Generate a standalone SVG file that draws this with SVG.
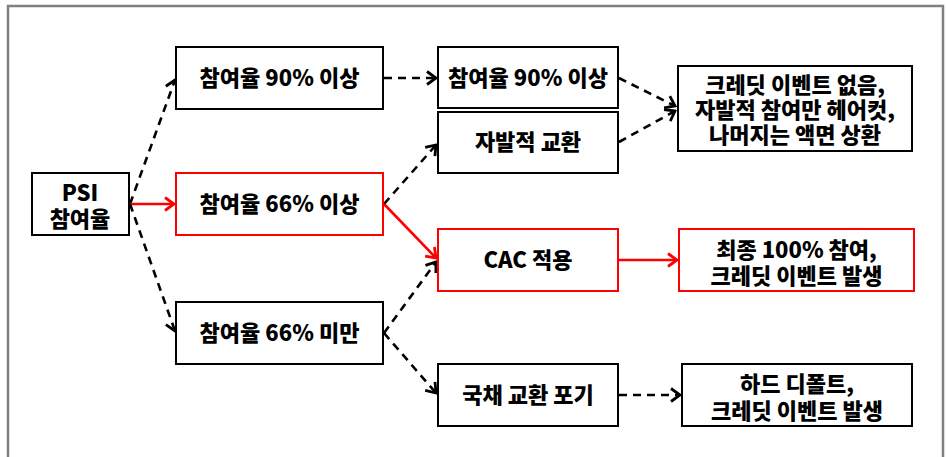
<svg xmlns="http://www.w3.org/2000/svg" width="946" height="457" viewBox="0 0 946 457">
<style>
.box{fill:#fff;stroke:#000;stroke-width:2}
.rbox{fill:#fff;stroke:#ff0000;stroke-width:2}
text{font-family:"Noto Sans CJK KR","Noto Sans",sans-serif;font-weight:900;font-size:22px;fill:#000;text-anchor:middle}
.d{fill:none;stroke:#000;stroke-width:2.6;stroke-dasharray:8 6}
.r{fill:none;stroke:#ff0000;stroke-width:2.6}
</style>
<defs>
<marker id="ab" viewBox="-11 -8 13 16" markerWidth="13" markerHeight="16" refX="0" refY="0" orient="auto" markerUnits="userSpaceOnUse">
<path d="M-9,-6.5 L0,0 L-9,6.5" fill="none" stroke="#000" stroke-width="2.8"/>
</marker>
<marker id="ar" viewBox="-11 -8 13 16" markerWidth="13" markerHeight="16" refX="0" refY="0" orient="auto" markerUnits="userSpaceOnUse">
<path d="M-9,-6.5 L0,0 L-9,6.5" fill="none" stroke="#ff0000" stroke-width="2.8"/>
</marker>
</defs>
<rect x="8" y="6" width="935" height="470" fill="none" stroke="#808080" stroke-width="2.5"/>
<g id="connectors">
<line class="d" x1="130" y1="204" x2="175" y2="80" marker-end="url(#ab)"/>
<line class="r" x1="130" y1="204" x2="174" y2="204" marker-end="url(#ar)"/>
<line class="d" x1="130" y1="204" x2="175" y2="331" marker-end="url(#ab)"/>
<line class="d" x1="384" y1="78" x2="436" y2="78" marker-end="url(#ab)"/>
<line class="d" x1="384" y1="204" x2="436" y2="145" marker-end="url(#ab)"/>
<line class="r" x1="384" y1="204" x2="436" y2="258" marker-end="url(#ar)"/>
<line class="d" x1="384" y1="333" x2="436" y2="262" marker-end="url(#ab)"/>
<line class="d" x1="384" y1="333" x2="436" y2="393" marker-end="url(#ab)"/>
<line class="d" x1="619" y1="78" x2="675" y2="106" marker-end="url(#ab)"/>
<line class="d" x1="619" y1="142" x2="675" y2="111" marker-end="url(#ab)"/>
<line class="r" x1="619" y1="260" x2="677" y2="260" marker-end="url(#ar)"/>
<line class="d" x1="619" y1="395" x2="680" y2="395" marker-end="url(#ab)"/>
</g>
<g id="psi"><rect class="box" x="32" y="173" width="97" height="62"/><text x="80" y="201">PSI</text><text x="80" y="227">참여율</text></g>
<g id="p90"><rect class="box" x="176" y="47" width="207" height="62"/><text x="279.5" y="86">참여율 90% 이상</text></g>
<g id="p66"><rect class="rbox" x="176" y="173" width="207" height="62"/><text x="279.5" y="212">참여율 66% 이상</text></g>
<g id="p66u"><rect class="box" x="176" y="302" width="207" height="62"/><text x="279.5" y="341">참여율 66% 미만</text></g>
<g id="q90"><rect class="box" x="438" y="47" width="180" height="61"/><text x="528" y="86">참여율 90% 이상</text></g>
<g id="vol"><rect class="box" x="438" y="112" width="180" height="61"/><text x="528" y="150">자발적 교환</text></g>
<g id="cac"><rect class="rbox" x="438" y="229" width="180" height="62"/><text x="528" y="268">CAC 적용</text></g>
<g id="giveup"><rect class="box" x="438" y="364" width="180" height="62"/><text x="528" y="403">국채 교환 포기</text></g>
<g id="noevent"><rect class="box" x="678" y="66" width="234" height="85"/><text x="795" y="93">크레딧 이벤트 없음,</text><text x="795" y="118">자발적 참여만 헤어컷,</text><text x="795" y="143">나머지는 액면 상환</text></g>
<g id="final"><rect class="rbox" x="679" y="229" width="235" height="62"/><text x="796.5" y="258">최종 100% 참여,</text><text x="796.5" y="284">크레딧 이벤트 발생</text></g>
<g id="hard"><rect class="box" x="682" y="364" width="230" height="62"/><text x="797" y="392">하드 디폴트,</text><text x="797" y="419">크레딧 이벤트 발생</text></g>
</svg>
